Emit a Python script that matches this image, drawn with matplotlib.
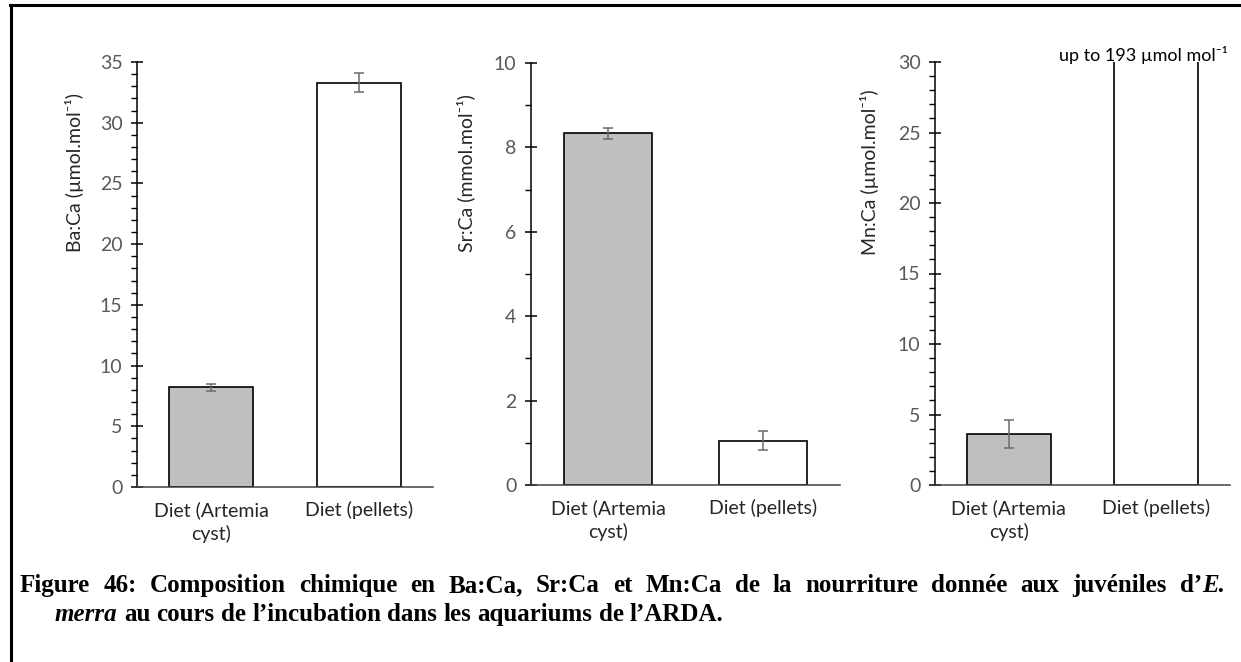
import matplotlib.pyplot as plt
from matplotlib.lines import Line2D

# data
categories = ["Diet (Artemia\ncyst)", "Diet (pellets)"]
ba_ca = [8.2, 33.3]
ba_ca_err = [0.3, 0.78]
sr_ca = [8.33, 1.05]
sr_ca_err = [0.12, 0.22]
mn_ca = [3.6, 193]
mn_ca_err = [1.0, 0]
bar_colors = ["#bfbfbf", "white"]

chart_font = ["Lato", "DejaVu Sans"]
cap_font = ["Liberation Serif", "DejaVu Serif"]
plt.rcParams["font.family"] = chart_font

fig = plt.figure(figsize=(12.41, 6.62), dpi=100)
W, H = 1241, 662


def px_axes(left, right, bottom, top):
    return [left / W, 1 - bottom / H, (right - left) / W, (bottom - top) / H]


panels = [
    (ba_ca, ba_ca_err, "Ba:Ca (µmol.mol⁻¹)", 35, 5, 1, px_axes(137, 433, 487, 62), -0.179),
    (sr_ca, sr_ca_err, "Sr:Ca (mmol.mol⁻¹)", 10, 2, 1, px_axes(531, 840, 485, 63), -0.181),
    (mn_ca, mn_ca_err, "Mn:Ca (µmol.mol⁻¹)", 30, 5, 1, px_axes(935, 1230, 485, 62), -0.19),
]

axes = []
for vals, errs, label, ymax, major, minor, rect, lab_x in panels:
    ax = fig.add_axes(rect)
    x = range(len(categories))
    ax.bar(x, vals, width=0.57, color=bar_colors, edgecolor="black", linewidth=1.2, zorder=2)
    ax.errorbar(x, vals, yerr=errs, fmt="none", ecolor="#6b6b6b", elinewidth=1.1,
                capsize=3.5, capthick=1.1, zorder=3)
    ax.set_xlim(-0.5, 1.5)
    ax.set_ylim(0, ymax)
    ax.set_yticks(range(0, ymax + 1, major))
    ax.set_yticks(range(0, ymax + 1, minor), minor=True)
    ax.set_xticks(list(x))
    ax.set_xticklabels(categories, fontsize=14, color="#262626", linespacing=1.4)
    ax.tick_params(axis="x", length=0, pad=10)
    ax.tick_params(axis="y", which="major", direction="inout", length=9, width=1.1,
                   labelsize=14, labelcolor="#595959", pad=6)
    ax.tick_params(axis="y", which="minor", direction="out", length=4, width=1.0)
    for s in ["top", "right"]:
        ax.spines[s].set_visible(False)
    ax.spines["left"].set_linewidth(1.1)
    ax.spines["bottom"].set_color("#404040")
    ax.spines["bottom"].set_linewidth(1.1)
    ax.set_ylabel(label, fontsize=14, color="#262626")
    ax.yaxis.set_label_coords(lab_x, 0.74)
    axes.append(ax)

axes[2].text(0.705, 1.017, "up to 193 µmol mol⁻¹", transform=axes[2].transAxes,
             ha="center", va="center", fontsize=13, color="black")

# frame around the figure (only top and left edges are visible)
fig.add_artist(Line2D([11 / W, 11 / W], [0, 1 - 5 / H], color="black", lw=2.2))
fig.add_artist(Line2D([10 / W, 1], [1 - 5 / H, 1 - 5 / H], color="black", lw=2.2))

# caption, first line justified
renderer = fig.canvas.get_renderer()


def add_line(tokens, x0, y, x1=None, size=18):
    rows, widths = [], []
    for tok in tokens:
        row = []
        for s, italic in tok:
            t = fig.text(0, y, s, fontsize=size, fontweight="bold",
                         fontstyle="italic" if italic else "normal",
                         family=cap_font, va="baseline")
            row.append((t, t.get_window_extent(renderer).width / W))
        rows.append(row)
        widths.append(sum(w for _, w in row))
    if x1 is None:
        probe = fig.text(0, 0, "a a", fontsize=size, fontweight="bold", family=cap_font)
        probe2 = fig.text(0, 0, "aa", fontsize=size, fontweight="bold", family=cap_font)
        gap = (probe.get_window_extent(renderer).width - probe2.get_window_extent(renderer).width) / W
        probe.remove()
        probe2.remove()
    else:
        gap = (x1 - x0 - sum(widths)) / (len(tokens) - 1)
    xp = x0
    for row in rows:
        for t, w in row:
            t.set_x(xp)
            xp += w
        xp += gap


line1 = "Figure 46: Composition chimique en Ba:Ca, Sr:Ca et Mn:Ca de la nourriture donnée aux juvéniles"
tokens1 = [[(w, False)] for w in line1.split()] + [[("d’", False), ("E.", True)]]
add_line(tokens1, 20 / W, 1 - 592 / H, 1225 / W)

line2 = "au cours de l’incubation dans les aquariums de l’ARDA."
tokens2 = [[("merra", True)]] + [[(w, False)] for w in line2.split()]
add_line(tokens2, 55 / W, 1 - 621 / H)

fig.savefig("out.png", dpi=100)
